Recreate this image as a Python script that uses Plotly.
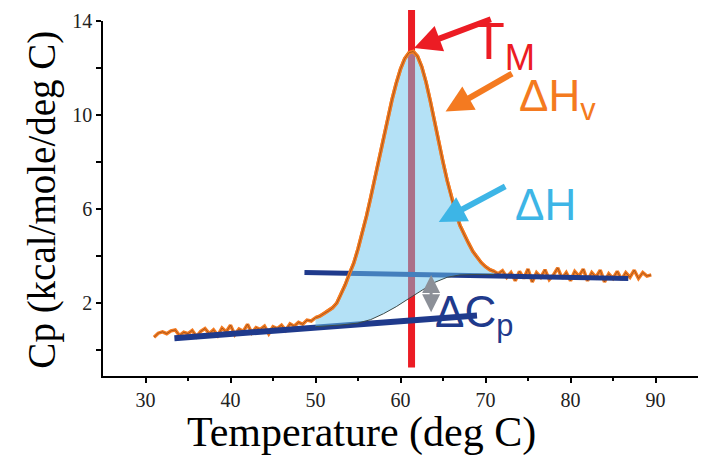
import numpy as np
import plotly.graph_objects as go

# ---------------- data ----------------
cp_values = [
    0.55, 0.72, 0.78, 0.70, 0.82, 0.86, 0.62, 0.76, 0.70, 0.84,
    0.58, 0.80, 0.92, 0.70, 0.86, 0.62, 0.94, 0.78, 1.06, 0.66,
    0.90, 0.80, 1.10, 0.74, 0.96, 0.88, 1.02, 0.70, 1.00, 0.92,
    1.06, 0.84, 1.12, 1.02, 1.18, 1.10, 1.28, 1.24, 1.38, 1.44,
    1.56, 1.66, 1.80, 2.00, 2.36, 2.78, 3.25, 3.70, 4.30, 4.95,
    5.70, 6.50, 7.35, 8.15, 9.00, 9.85, 10.65, 11.35, 11.95, 12.40,
    12.65, 12.70, 12.50, 12.05, 11.40, 10.60, 9.70, 8.80, 8.00, 7.20,
    6.45, 5.85, 5.30, 4.90, 4.55, 4.20, 3.95, 3.72, 3.55, 3.42,
    3.35, 3.25, 3.38, 3.10, 3.30, 2.95, 3.35, 3.05, 3.45, 2.90,
    3.30, 3.10, 3.42, 3.00, 3.20, 3.50, 3.05, 3.30, 2.95, 3.35,
    3.15, 3.45, 2.95, 3.30, 3.10, 3.40, 2.90, 3.25, 3.05, 3.35,
    3.00, 3.30, 3.10, 3.40, 3.05, 3.30, 3.15, 3.20,
]
temp_start = 31.0
temp_step = 0.5
temps = temp_start + temp_step * np.arange(len(cp_values))
cp = np.array(cp_values)

# transition region (filled area, Delta H)
trans_lo, trans_hi = 50.0, 71.0

# sigmoidal progress baseline under the peak
sig_t = [50.0, 53.0, 55.0, 56.5, 58.0, 59.5, 61.0, 62.5, 64.0, 65.5, 67.0, 69.0, 71.0]
sig_cp = [1.00, 1.07, 1.15, 1.30, 1.55, 1.85, 2.20, 2.55, 2.88, 3.10, 3.20, 3.22, 3.22]

# pre- and post-transition baselines
low_base_t = [33.4, 69.0]
low_base_cp = [0.51, 1.47]
up_base_t = [48.7, 86.8]
up_base_cp = [3.30, 3.05]

tm = 61.3
dcp_t = 63.6
dcp_range = [3.20, 1.55]

x_ticks = [30, 40, 50, 60, 70, 80, 90]
y_ticks = [2, 6, 10, 14]

# ---------------- styles ----------------
RED = '#ec1c24'
ORANGE = '#f47a20'
NAVY = '#1f3a8c'
SKY = '#3db5e6'
GRAY = '#8c9098'
SANS = 'Liberation Sans, Arial, sans-serif'
SERIF = 'Liberation Serif, Times New Roman, serif'

fig = go.Figure()

# Tm vertical line (below traces so the fill tints it)
fig.add_shape(type='line', xref='x', yref='paper', x0=tm, x1=tm, y0=0.024, y1=1.031,
              line=dict(color=RED, width=7), layer='below')

# full thermogram
fig.add_trace(go.Scatter(x=temps, y=cp, mode='lines',
                         line=dict(color=ORANGE, width=3.5), hoverinfo='skip'))
fig.add_trace(go.Scatter(x=temps, y=cp, mode='lines',
                         line=dict(color='rgba(110,60,25,0.55)', width=1), hoverinfo='skip'))

# baselines
fig.add_trace(go.Scatter(x=low_base_t, y=low_base_cp, mode='lines',
                         line=dict(color=NAVY, width=6), hoverinfo='skip'))
fig.add_trace(go.Scatter(x=up_base_t, y=up_base_cp, mode='lines',
                         line=dict(color=NAVY, width=5), hoverinfo='skip'))

# filled Delta H area
mask = (temps >= trans_lo) & (temps <= trans_hi)
poly_x = list(temps[mask]) + sig_t[::-1]
poly_y = list(cp[mask]) + sig_cp[::-1]
fig.add_trace(go.Scatter(x=poly_x, y=poly_y, mode='lines', fill='toself',
                         fillcolor='rgba(105,195,238,0.5)', line=dict(width=0),
                         hoverinfo='skip'))

# redraw the peak over the fill
fig.add_trace(go.Scatter(x=temps[mask], y=cp[mask], mode='lines',
                         line=dict(color=ORANGE, width=3.5), hoverinfo='skip'))
fig.add_trace(go.Scatter(x=temps[mask], y=cp[mask], mode='lines',
                         line=dict(color='rgba(110,60,25,0.55)', width=1), hoverinfo='skip'))

# sigmoidal baseline
fig.add_trace(go.Scatter(x=sig_t, y=sig_cp, mode='lines',
                         line=dict(color='#3d4a48', width=1), hoverinfo='skip'))

# ---------------- annotations ----------------
def label(x, y, text, color, size):
    fig.add_annotation(x=x, y=y, xref='x', yref='y', text=text, showarrow=False,
                       font=dict(family=SANS, size=size, color=color),
                       xanchor='center', yanchor='middle')

def arrow(x, y, ax, ay, color, width=6, size=0.9, side='end'):
    fig.add_annotation(x=x, y=y, ax=ax, ay=ay, xref='x', yref='y', axref='x', ayref='y',
                       text='', showarrow=True, arrowhead=2, arrowsize=size,
                       arrowwidth=width, arrowcolor=color, arrowside=side,
                       startarrowhead=2, startarrowsize=size)

label(72.2, 13.0, 'T<sub>M</sub>', RED, 52)
label(78.5, 10.7, 'ΔH<sub>v</sub>', ORANGE, 44)
label(77.1, 6.2, 'ΔH', SKY, 44)
label(68.7, 1.5, 'ΔC<sub>p</sub>', NAVY, 44)

arrow(61.6, 12.85, 70.8, 14.1, RED)
arrow(65.3, 10.15, 73.3, 11.8, ORANGE)
arrow(64.5, 5.45, 72.5, 7.0, SKY)
arrow(dcp_t, dcp_range[0], dcp_t, dcp_range[1], GRAY, width=3, size=1.2, side='end+start')

# axis titles
fig.add_annotation(x=0.435, y=-0.159, xref='paper', yref='paper', text='Temperature (deg C)',
                   showarrow=False, font=dict(family=SERIF, size=42, color='black'),
                   xanchor='center', yanchor='middle')
fig.add_annotation(x=-0.103, y=0.496, xref='paper', yref='paper', text='Cp (kcal/mole/deg C)',
                   showarrow=False, textangle=-90,
                   font=dict(family=SERIF, size=39, color='black'),
                   xanchor='center', yanchor='middle')

fig.update_layout(
    width=703, height=464,
    margin=dict(l=103, r=5, t=21, b=88),
    paper_bgcolor='white', plot_bgcolor='white',
    showlegend=False,
    xaxis=dict(range=[25, 95], tickvals=x_ticks, showline=True, linecolor='black',
               linewidth=1.5, ticks='outside', ticklen=5, tickwidth=1.5, tickcolor='black',
               showgrid=False, zeroline=False,
               tickfont=dict(family=SERIF, size=20, color='#222'),
               minor=dict(tickvals=[35, 45, 55, 65, 75, 85], ticks='outside', ticklen=3,
                          tickwidth=1.5, tickcolor='black')),
    yaxis=dict(range=[-1.1, 14], tickvals=y_ticks, showline=True, linecolor='black',
               linewidth=1.5, ticks='outside', ticklen=5, tickwidth=1.5, tickcolor='black',
               showgrid=False, zeroline=False,
               tickfont=dict(family=SERIF, size=20, color='#222'),
               minor=dict(tickvals=[0, 4, 8, 12], ticks='outside', ticklen=5,
                          tickwidth=1.5, tickcolor='black')),
)

fig.write_html('out.html')
